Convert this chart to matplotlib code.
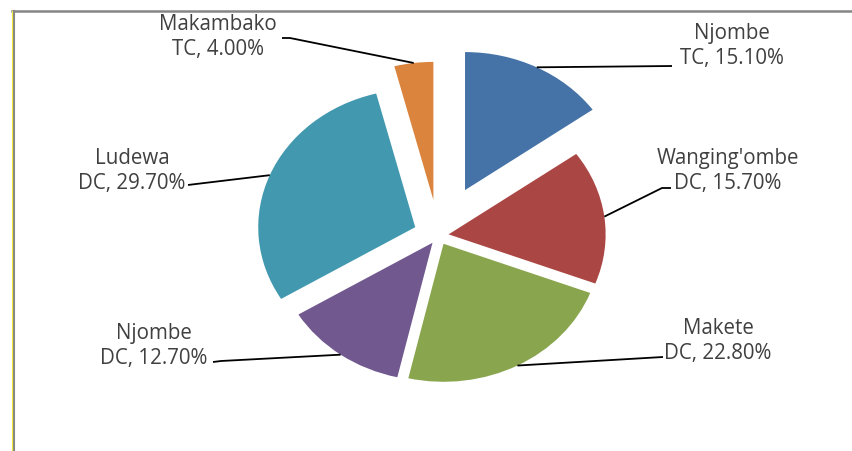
import matplotlib
matplotlib.use("Agg")
import matplotlib.pyplot as plt
from matplotlib.lines import Line2D
import numpy as np

# Share of each council (percent)
names = ["Njombe\nTC", "Wanging'ombe\nDC", "Makete\nDC", "Njombe\nDC", "Ludewa\nDC", "Makambako\nTC"]
shares = [15.10, 15.70, 22.80, 12.70, 29.70, 4.00]
colors = ["#4572A7", "#AA4643", "#89A54E", "#71588F", "#4198AF", "#DB843D"]
explode = [0.37, 0.065, 0.068, 0.065, 0.16, 0.26]

W, H = 853, 452
fig = plt.figure(figsize=(W / 100, H / 100), dpi=100)
ax = fig.add_axes([0, 0, 1, 1])

# horizontal / vertical radius of the pie in pixels (slightly stretched)
RX, RY = 157.0, 138.0
CX, CY = 438.5, 236.5

wedges, _ = ax.pie(shares, colors=colors, explode=explode, startangle=90,
                   counterclock=False, radius=1.0,
                   center=(CX / RX, (H - CY) / RY),
                   wedgeprops=dict(linewidth=0))
ax.set_aspect("auto")
ax.set_xlim(0, W / RX)
ax.set_ylim(0, H / RY)
ax.axis("off")

inv = ax.transData.inverted()


def to_data(px, py):
    return inv.transform((px, H - py))


# label text centres and the leader-line path on the label side (pixels)
label_pos = [(732, 46), (728, 171), (718, 341), (154, 346), (132, 171), (218, 37)]
leader_tail = [
    [(672, 67)],
    [(662, 189), (671, 189)],
    [(663, 358)],
    [(221, 362), (213, 363)],
    [(196, 185), (188, 186)],
    [(290, 39), (282, 39)],
]

for w, name, val, (lx, ly), tail in zip(wedges, names, shares, label_pos, leader_tail):
    mid = np.deg2rad((w.theta1 + w.theta2) / 2)
    ax_, ay_ = w.center[0] + w.r * np.cos(mid), w.center[1] + w.r * np.sin(mid)
    pts = [(ax_, ay_)] + [tuple(to_data(px, py)) for px, py in tail]
    xs, ys = zip(*pts)
    ax.plot(xs, ys, color="black", lw=1.3, solid_capstyle="butt", zorder=3)
    tx, ty = to_data(lx, ly)
    ax.text(tx, ty, f"{name}, {val:.2f}%", ha="center", va="center",
            multialignment="center", fontsize=14.8, family="Open Sans",
            color="#404040", linespacing=1.2)

# chart frame (top and left edges)
fig.add_artist(Line2D([12 / W, 1], [1 - 12 / H, 1 - 12 / H], transform=fig.transFigure,
                      color="#858585", lw=1.8))
fig.add_artist(Line2D([13.8 / W, 13.8 / W], [0, 1 - 12 / H], transform=fig.transFigure,
                      color="#858585", lw=1.5))
fig.add_artist(Line2D([12 / W, 12 / W], [0, 1 - 12 / H], transform=fig.transFigure,
                      color="#F2EA3A", lw=0.8))

fig.savefig("out.png", dpi=100, facecolor="white")
